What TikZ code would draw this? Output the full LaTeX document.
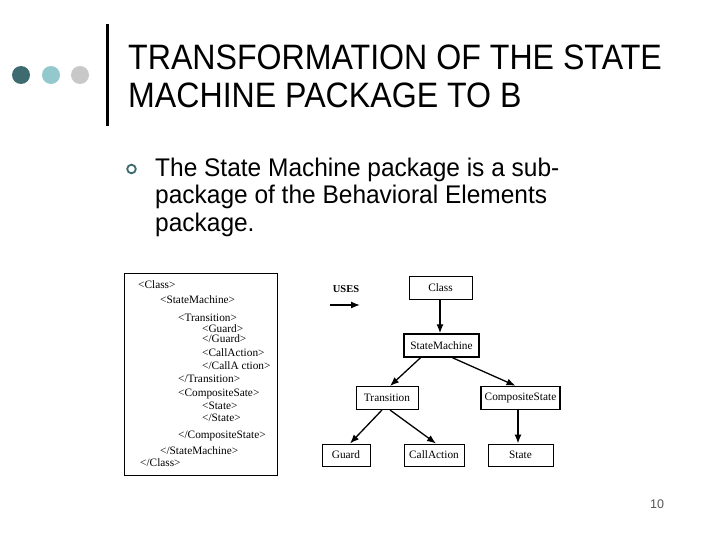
\documentclass[tikz,border=0pt]{standalone}
\usepackage{fontspec}
\setmainfont{Liberation Sans}
\newfontfamily\titlefont[FakeStretch=0.91]{Liberation Sans}
\newfontfamily\bodyfont[FakeStretch=0.96]{Liberation Sans}
\newfontfamily\dfont{Liberation Serif}
\usetikzlibrary{arrows.meta,calc}
\definecolor{dteal}{HTML}{3D6B70}
\definecolor{lteal}{HTML}{93C9CC}
\definecolor{lgray}{HTML}{C8C8C8}
\definecolor{pgray}{HTML}{555555}
\tikzset{
  titleline/.style={anchor=base west, inner sep=0pt, font=\titlefont\fontsize{35.3}{38}\selectfont},
  bodyline/.style={anchor=base west, inner sep=0pt, font=\bodyfont\fontsize{25.5}{27}\selectfont},
  xmlline/.style={anchor=base west, inner sep=0pt, font=\dfont\fontsize{11.3}{12}\selectfont},
  cbox/.style={draw=black, line width=1pt, minimum height=23pt, inner xsep=3pt, font=\dfont\fontsize{11.3}{12}\selectfont},
  uarrow/.style={line width=1.3pt, -{Latex[length=9pt,width=7pt]}},
}
\begin{document}
\begin{tikzpicture}[x=1pt,y=-1pt]
\path[use as bounding box, fill=white] (0,0) rectangle (720,540);
% header dots and bar
\fill[dteal] (21,75) circle (9);
\fill[lteal] (51,75) circle (9);
\fill[lgray] (80,75) circle (9);
\fill[black] (105.8,24) rectangle (109,126);
\node[titleline] (title1) at (128,70) {TRANSFORMATION OF THE STATE};
\node[titleline] (title2) at (128,108) {MACHINE PACKAGE TO B};
% bullet
\draw[dteal, line width=1.8pt] (131.5,169) circle (4.3);
\node[bodyline] (b1) at (155,177) {The State Machine package is a sub-};
\node[bodyline] (b2) at (155,204) {package of the Behavioral Elements};
\node[bodyline] (b3) at (155,231) {package.};
% XML box
\draw[line width=1pt] (124,273) rectangle (277,475);
\node[xmlline] (x1) at (138,288) {<Class>};
\node[xmlline] (x2) at (160,303) {<StateMachine>};
\node[xmlline] (x3) at (178,321) {<Transition>};
\node[xmlline] (x4) at (202,332) {<Guard>};
\node[xmlline] (x5) at (202,342) {</Guard>};
\node[xmlline] (x6) at (202,356) {<CallAction>};
\node[xmlline] (x7) at (202,369) {</CallA ction>};
\node[xmlline] (x8) at (178,382) {</Transition>};
\node[xmlline] (x9) at (178,396) {<CompositeSate>};
\node[xmlline] (x10) at (202,409) {<State>};
\node[xmlline] (x11) at (202,421) {</State>};
\node[xmlline] (x12) at (178,438) {</CompositeState>};
\node[xmlline] (x13) at (160,454) {</StateMachine>};
\node[xmlline] (x14) at (140,466) {</Class>};
% legend
\node[anchor=base, inner sep=0pt, font=\dfont\bfseries\fontsize{10.5}{12}\selectfont] (uses) at (346,292) {USES};
\coordinate (ua) at (330,305);
\coordinate (ub) at (360,305);
\draw[uarrow] (ua) -- (ub);
% class diagram
\node[cbox, minimum width=63pt] (class) at (440.5,288) {Class};
\node[cbox, minimum width=75pt, line width=1.5pt] (sm) at (441.5,345.5) {StateMachine};
\node[cbox, minimum width=62pt] (tr) at (387,398) {Transition};
\node[cbox, minimum width=79pt, line width=1.5pt] (cs) at (520.5,398) {CompositeState};
\node[cbox, minimum width=48pt, minimum height=22pt] (guard) at (346,455) {Guard};
\node[cbox, minimum width=60pt, minimum height=22pt] (ca) at (434,455) {CallAction};
\node[cbox, minimum width=65pt, minimum height=22pt] (state) at (520.5,455) {State};
\draw[uarrow] ($(class.south)+(-0.5,0)$) -- ($(sm.north)+(-1.5,0)$);
\draw[uarrow] ($(sm.south)+(-21,0)$) -- ($(tr.north)+(3,0)$);
\draw[uarrow] ($(sm.south)+(11,0)$) -- ($(cs.north)+(-5,0)$);
\draw[uarrow] ($(tr.south)+(-5,0)$) -- ($(guard.north)+(4,0)$);
\draw[uarrow] ($(tr.south)+(3,0)$) -- ($(ca.north)+(2,0)$);
\draw[uarrow] ($(cs.south)+(-2.5,0)$) -- ($(state.north)+(-2.5,0)$);
% page number
\node[inner sep=0pt, text=pgray, font=\fontsize{12.5}{14}\selectfont] (pnum) at (657,504) {10};
\end{tikzpicture}
\end{document}
